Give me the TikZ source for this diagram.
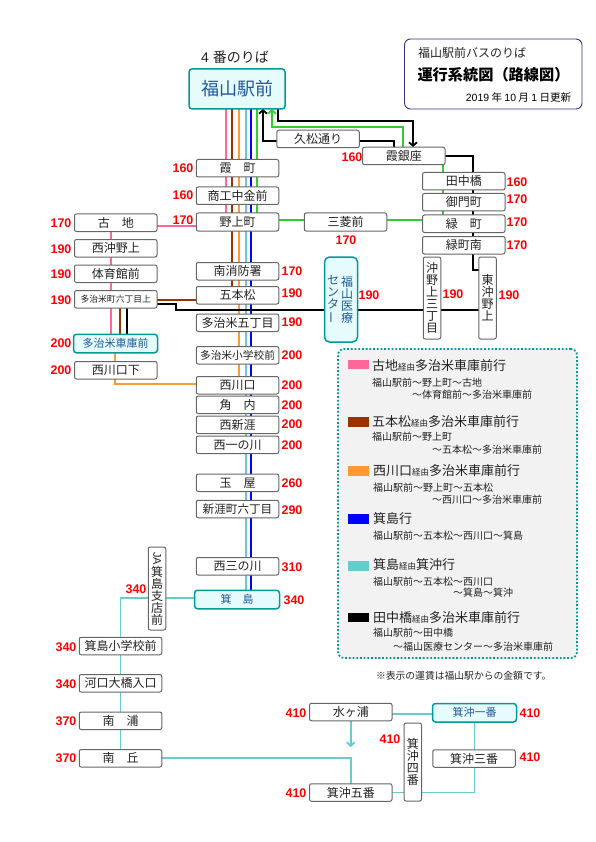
\documentclass[tikz,border=0pt]{standalone}
\usepackage{fontspec}
\usepackage{graphicx}
\setmainfont{Noto Sans CJK JP}
\newfontfamily\numf{Liberation Sans}
\usetikzlibrary{arrows.meta}
\pgfdeclarelayer{background}
\pgfsetlayers{background,main}
\definecolor{cpink}{HTML}{FF6699}
\definecolor{cbrown}{HTML}{993300}
\definecolor{corange}{HTML}{FF9933}
\definecolor{cblue}{HTML}{0000FF}
\definecolor{cteal}{HTML}{66CCCC}
\definecolor{cgreen}{HTML}{33CC33}
\definecolor{termb}{HTML}{009999}
\definecolor{termf}{HTML}{E6FBFB}
\definecolor{termt}{HTML}{1F5A9A}
\definecolor{bbord}{HTML}{666666}
\definecolor{txt}{HTML}{222222}
\definecolor{navy}{HTML}{3B2F7F}
\definecolor{lgbg}{HTML}{F2F2F2}
\newcommand{\cstrut}{\rule{0pt}{.88em}\rule[-.12em]{0pt}{.12em}}
\newcommand{\fs}[1]{\fontsize{#1}{#1}\selectfont}
\newcommand{\via}{{\fs{8.5}経由}}
\tikzset{
  x=1pt,y=-1pt,
  cjk/.style={inner sep=0pt,outer sep=0pt,text=txt,execute at begin node={\cstrut}},
  stn/.style={cjk,draw=bbord,line width=1pt,fill=white,rounded corners=2pt,minimum width=82.5pt,minimum height=17.5pt,font=\fs{12}},
  term/.style={cjk,draw=termb,line width=1.5pt,fill=termf,text=termt,rounded corners=3pt,minimum width=84pt,minimum height=18.5pt,font=\fs{11}},
  vst/.style={inner sep=0pt,outer sep=0pt,text=txt,draw=bbord,line width=1pt,fill=white,rounded corners=2pt,minimum width=17.5pt,align=center,font=\fs{12}},
  fare/.style={inner sep=0pt,text=red,font=\numf\bfseries\fs{12.5}},
  rte/.style={line width=1.8pt},
  lgh/.style={cjk,anchor=west,font=\fs{13}},
  lgs/.style={cjk,anchor=west,font=\fs{10}},
  swatch/.style={inner sep=0pt,minimum width=21pt,minimum height=9.5pt,anchor=west},
  barb/.style={-{Straight Barb[length=3.5pt,width=8pt]}}
}
\begin{document}
\begin{tikzpicture}
\useasboundingbox (0,0) rectangle (595,842);
\node[cjk,font=\fs{14}] (ttl) at (235,57) {\numf 4 \fontspec{Noto Sans CJK JP}番のりば};
\node[term,minimum width=96pt,minimum height=40pt,font=\fs{18}] (eki) at (237,89) {福山駅前};
% info box
\node[draw=navy,line width=.9pt,fill=white,rounded corners=6pt,minimum width=177.5pt,minimum height=70pt,inner sep=0pt] (info) at (493.25,74) {};
\node[cjk,anchor=west,font=\fs{12}] (i1) at (418,53) {福山駅前バスのりば};
\node[cjk,anchor=west,font=\bfseries\fs{15.2},text=black] (i2) at (417.5,75) {運行系統図（路線図）};
\node[cjk,anchor=east,font=\fs{10.5},text=black] (i3) at (571,98) {{\numf 2019} 年 {\numf 10} 月 {\numf 1} 日更新};
% upper stations
\node[stn] (hisa) at (318,139) {久松通り};
\node[stn] (ginza) at (403.75,156) {霞銀座};
\node[stn] (kasumi) at (237.5,168.25) {霞　町};
\node[stn] (shoko) at (237.5,195.75) {商工中金前};
\node[stn,minimum height=18pt] (noage) at (237.5,222) {野上町};
\node[stn,minimum height=18pt] (mitsu) at (345.5,222) {三菱前};
\node[stn] (tanaka) at (463.75,181.25) {田中橋};
\node[stn] (gomon) at (463.75,202.25) {御門町};
\node[stn] (midori) at (463.75,223.75) {緑　町};
\node[stn] (midoris) at (463.75,245.25) {緑町南};
\node[vst,minimum height=82pt] (okinoue) at (432,298) {沖\\野\\上\\三\\丁\\目};
\node[vst,minimum height=82pt] (higashi) at (487.5,298) {東\\沖\\野\\上};
\node[draw=termb,line width=1.5pt,fill=termf,rounded corners=5pt,minimum width=33pt,minimum height=85pt,inner sep=0pt] (iryo) at (341,299.5) {};
\node[inner sep=0pt,align=center,text=termt,font=\fs{12}] (iryo1) at (347,299.5) {福\\山\\医\\療};
\node[inner sep=0pt,align=center,text=termt,font=\fs{12}] (iryo2) at (333,299.5) {セ\\ン\\タ\\\rotatebox[origin=c]{90}{ー}};
% left column
\node[stn] (furu) at (115.75,222.75) {古　地};
\node[stn] (nishioki) at (115.75,248.25) {西沖野上};
\node[stn] (taiiku) at (115.75,273.75) {体育館前};
\node[stn,font=\fs{8.8}] (roku) at (115.75,299.25) {多治米町六丁目上};
\node[term] (shako) at (115.5,343.5) {多治米車庫前};
\node[stn] (kawashita) at (115.75,370.25) {西川口下};
% centre column
\node[stn] (minami) at (237.5,271.25) {南消防署};
\node[stn] (gohon) at (237.5,295.25) {五本松};
\node[stn] (tajimi5) at (237.5,322.75) {多治米五丁目};
\node[stn,font=\fs{10.7}] (tajimis) at (237.5,355.25) {多治米小学校前};
\node[stn] (nishik) at (237.5,385.25) {西川口};
\node[stn] (kado) at (237.5,404.75) {角　内};
\node[stn] (nishis) at (237.5,424.75) {西新涯};
\node[stn] (nishii) at (237.5,444.75) {西一の川};
\node[stn] (tamaya) at (237.5,482.75) {玉　屋};
\node[stn,font=\fs{11.6}] (shing) at (237.5,509) {新涯町六丁目};
\node[stn] (nishim) at (237.5,566.25) {西三の川};
\node[term,minimum width=85pt] (mino) at (237,599.5) {箕　島};
\node[vst,minimum height=83pt] (ja) at (157,588.5) {\rotatebox[origin=c]{-90}{\numf\fs{11}JA}\\箕\\島\\支\\店\\前};
% lower left
\node[stn] (gakko) at (120.5,646) {箕島小学校前};
\node[stn] (kako) at (120.5,683.25) {河口大橋入口};
\node[stn] (ura) at (120.5,720.75) {南　浦};
\node[stn] (oka) at (120.5,758.25) {南　丘};
% lower right
\node[stn] (mizu) at (350.75,712) {水ヶ浦};
\node[term] (ichi) at (474.5,712.75) {箕沖一番};
\node[stn] (san) at (474,758.5) {箕沖三番};
\node[vst,minimum height=78pt] (yon) at (412.75,762) {箕\\沖\\四\\番};
\node[stn] (go) at (350.75,792.5) {箕沖五番};
% fares
\foreach \n/\X/\Y/\t in {f1/183/168/160,f2/183/195/160,f3/183/220/170,f4/352/157/160,f5/346/240/170,
 f6/61/223/170,f7/61/249/190,f8/61/274.5/190,f9/61/300/190,f10/61/343/200,f11/61/370.5/200,
 f12/292/271/170,f13/292/293/190,f14/292/322/190,f15/292/355/200,f16/292/385.5/200,f17/292/405/200,
 f18/292/424/200,f19/292/445/200,f20/292/483/260,f21/292/510/290,f22/292/567/310,f23/294/600/340,
 f24/517/182/160,f25/517/199/170,f26/517/222/170,f27/517/245/170,
 f28/369/295/190,f29/453/294/190,f30/509/295/190,
 f31/136/589/340,f32/66/647/340,f33/66/684/340,f34/66/721/370,f35/66/758/370,
 f36/296/713/410,f37/390/739/410,f38/296/793/410,f39/530/713/410,f40/530/757/410}
  {\node[fare] (\n) at (\X,\Y) {\t};}
% legend
\node[draw=termb,line width=1.8pt,dash pattern=on 1.8pt off 1.9pt,fill=lgbg,rounded corners=6pt,minimum width=239pt,minimum height=309pt,inner sep=0pt] (lg) at (457.5,503.5) {};
\node[swatch,fill=cpink] (s1) at (348,364.5) {};
\node[lgh] (h1) at (372,366) {古地\via 多治米車庫前行};
\node[lgs] (a1) at (372,383) {福山駅前～野上町～古地};
\node[lgs] (b1) at (412,395) {～体育館前～多治米車庫前};
\node[swatch,fill=cbrown] (s2) at (348,422) {};
\node[lgh] (h2) at (372,421.7) {五本松\via 多治米車庫前行};
\node[lgs] (a2) at (372,437) {福山駅前～野上町};
\node[lgs] (b2) at (432,450) {～五本松～多治米車庫前};
\node[swatch,fill=corange] (s3) at (348,471) {};
\node[lgh] (h3) at (373,471) {西川口\via 多治米車庫前行};
\node[lgs] (a3) at (373,488) {福山駅前～野上町～五本松};
\node[lgs] (b3) at (432,500) {～西川口～多治米車庫前};
\node[swatch,fill=cblue] (s4) at (348,519) {};
\node[lgh] (h4) at (373,519) {箕島行};
\node[lgs] (a4) at (373,536) {福山駅前～五本松～西川口～箕島};
\node[swatch,fill=cteal] (s5) at (348,566) {};
\node[lgh] (h5) at (373,565) {箕島\via 箕沖行};
\node[lgs] (a5) at (373,582) {福山駅前～五本松～西川口};
\node[lgs] (b5) at (453,593) {～箕島～箕沖};
\node[swatch,fill=black] (s6) at (348,617.5) {};
\node[lgh] (h6) at (373,618) {田中橋\via 多治米車庫前行};
\node[lgs] (a6) at (373,633) {福山駅前～田中橋};
\node[lgs] (b6) at (393,647) {～福山医療センター～多治米車庫前};
\node[cjk,anchor=west,font=\fs{9.8}] (note) at (376,676) {※表示の運賃は福山駅からの金額です。};
% connectors
\coordinate (xP) at (226,0);
\coordinate (xBr) at (232,0);
\coordinate (xO) at (239,0);
\coordinate (xT) at (246,0);
\coordinate (xB) at (251,0);
\coordinate (xG) at (257,0);
\coordinate (xK) at (263,0);
\coordinate (xLG) at (272,0);
\coordinate (xKK) at (278,0);
\coordinate (yK) at (0,121);
\coordinate (yLG) at (0,127);
\coordinate (xR) at (443,0);
\coordinate (xS) at (473,0);
\coordinate (kink) at (176,304);
\coordinate (kb) at (176,310);
\coordinate (sb) at (473,270);
\coordinate (mtip) at (350.75,747);
\coordinate (xLP) at (111,0);
\coordinate (xLBr) at (120,0);
\coordinate (xLK) at (127,0);
\coordinate (xLO) at (115,0);
\coordinate (yLO) at (0,384);
\begin{pgfonlayer}{background}
\draw[rte,cpink] (xP |- eki.south) -- (xP |- noage.north);
\draw[rte,cbrown] (xBr |- eki.south) -- (xBr |- gohon.north);
\draw[rte,corange] (xO |- eki.south) -- (xO |- nishik.north);
\draw[rte,cteal] (xT |- eki.south) -- (xT |- mino.north);
\draw[rte,cblue] (xB |- eki.south) -- (xB |- mino.north);
\draw[rte,cgreen] (xG |- eki.south) -- (xG |- noage.north);
\draw[rte,cgreen,barb] (ginza.north) ++(-.75,0) |- (yLG -| xLG) -- (xLG |- eki.south);
\draw[rte,black,barb] (xKK |- eki.south) |- (yK -| 413,0) -- (413,147);
\draw[rte,black,barb] ([yshift=-2pt]hisa.west) -| (xK |- eki.south);
\draw[rte,black] ([yshift=-2pt]hisa.east) -| (394,147);
\draw[rte,cgreen] ([yshift=2pt]noage.east) -- ([yshift=2pt]mitsu.west);
\draw[rte,cgreen] ([yshift=2pt]mitsu.east) -- ([yshift=3.75pt]midori.west);
\draw[rte,cgreen] (xR |- ginza.south) -- (xR |- midori.north);
\draw[rte,black] (ginza.east) -| (xS |- midoris.south) -- (sb) -- (higashi.west |- sb);
\draw[rte,cpink] ([yshift=-4pt]noage.west) -- ([yshift=-3.25pt]furu.east);
\draw[rte,cpink] (xLP |- furu.south) -- (xLP |- shako.north);
\draw[rte,cbrown] ([yshift=-.75pt]roku.east) -- ([yshift=-4.75pt]gohon.west);
\draw[rte,cbrown] (xLBr |- roku.south) -- (xLBr |- shako.north);
\draw[rte,black] (xLK |- roku.south) -- (xLK |- shako.north);
\draw[rte,black] ([yshift=-4.75pt]roku.east) -- (kink) -- (kb) -- (higashi.west |- kb);
\draw[rte,corange] (xLO |- shako.south) -- (xLO |- yLO) -- (nishik.west |- yLO);
\draw[rte,cteal] ([yshift=1.75pt]mino.west) -| (gakko.north);
\draw[rte,cteal] (gakko.south) -- (kako.north);
\draw[rte,cteal] (kako.south) -- (ura.north);
\draw[rte,cteal] (ura.south) -- (oka.north);
\draw[rte,cteal] (oka.east) -| (go.north);
\draw[rte,cteal,barb] (mizu.south) -- (mtip);
\draw[rte,cteal] ([yshift=-2pt]mizu.east) -- ([yshift=-1.25pt]ichi.west);
\draw[rte,cteal] (ichi.south) |- (go.east);
\end{pgfonlayer}
\end{tikzpicture}
\end{document}
